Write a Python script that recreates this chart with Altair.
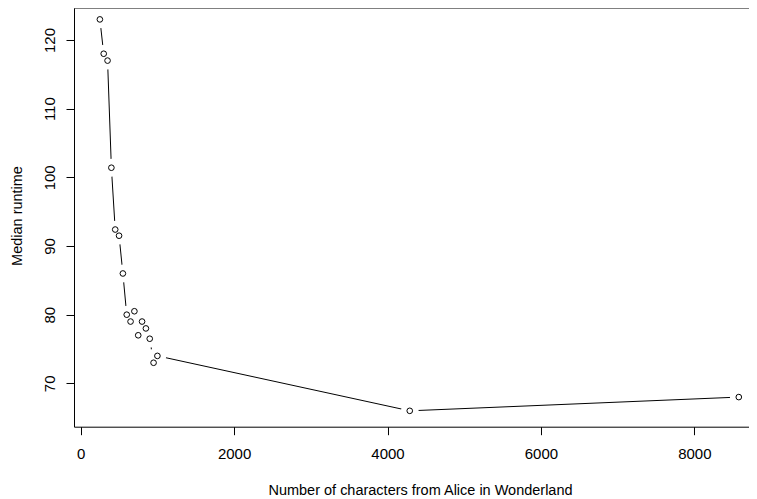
import altair as alt
import pandas as pd

chars = [250, 300, 350, 400, 450, 500, 550, 600, 650, 700, 750, 800, 850, 900, 950, 1000, 4290, 8580]
runtime = [123, 118, 117, 101.4, 92.4, 91.5, 86, 80, 79, 80.5, 77, 79, 78, 76.5, 73, 74, 66, 68]
x_ticks = [0, 2000, 4000, 6000, 8000]
y_ticks = [70, 80, 90, 100, 110, 120]

df = pd.DataFrame({"chars": chars, "runtime": runtime})

W = 675
H = 418.7
FONT = "Liberation Sans"

xscale = alt.Scale(domain=[-87.3, 8713], nice=False, zero=False)
yscale = alt.Scale(domain=[63.69, 124.66], nice=False, zero=False)

xaxis = alt.Axis(
    values=x_ticks, format="d", grid=False,
    title="Number of characters from Alice in Wonderland",
    domainColor="black", tickColor="black", tickSize=8,
    labelFont=FONT, labelFontSize=15, labelColor="black",
    labelBaseline="alphabetic", labelPadding=24, labelFlush=False, labelOverlap=False,
    titleFont=FONT, titleFontSize=14.5, titleFontWeight="normal", titleColor="black",
    titleX=346, titleY=67.5, titleBaseline="alphabetic", titleAlign="center",
)
yaxis = alt.Axis(
    values=y_ticks, format="d", grid=False,
    title="Median runtime",
    domainColor="black", tickColor="black", tickSize=8,
    labelFont=FONT, labelFontSize=15, labelColor="black",
    labelAngle=270, labelAlign="center", labelBaseline="alphabetic", labelPadding=12,
    labelFlush=False, labelOverlap=False,
    titleFont=FONT, titleFontSize=14.5, titleFontWeight="normal", titleColor="black",
    titleAngle=270, titleX=-52.5, titleY=207.5, titleBaseline="alphabetic", titleAlign="center",
)

base = alt.Chart(df).encode(
    x=alt.X("chars:Q", scale=xscale, axis=xaxis),
    y=alt.Y("runtime:Q", scale=yscale, axis=yaxis),
    order=alt.Order("chars:Q"),
)

line = base.mark_line(color="black", strokeWidth=1)
halo = base.mark_point(shape="circle", filled=True, fill="white", stroke="white", opacity=1, size=250)
pts = base.mark_point(shape="circle", filled=True, fill="white", stroke="black", strokeWidth=1, opacity=1, size=32)

top = alt.Chart(df.head(1)).mark_rule(color="black", strokeWidth=1).encode(
    x=alt.value(0), x2=alt.value(W), y=alt.value(0)
)

chart = alt.layer(line, halo, pts, top).properties(
    width=W, height=H,
    autosize=alt.AutoSizeParams(type="none"),
    padding={"left": 66, "top": 0, "right": 0, "bottom": 76},
    background="white",
).configure_view(stroke=None)

chart.save("out.html", embed_options={"renderer": "svg", "actions": False})
